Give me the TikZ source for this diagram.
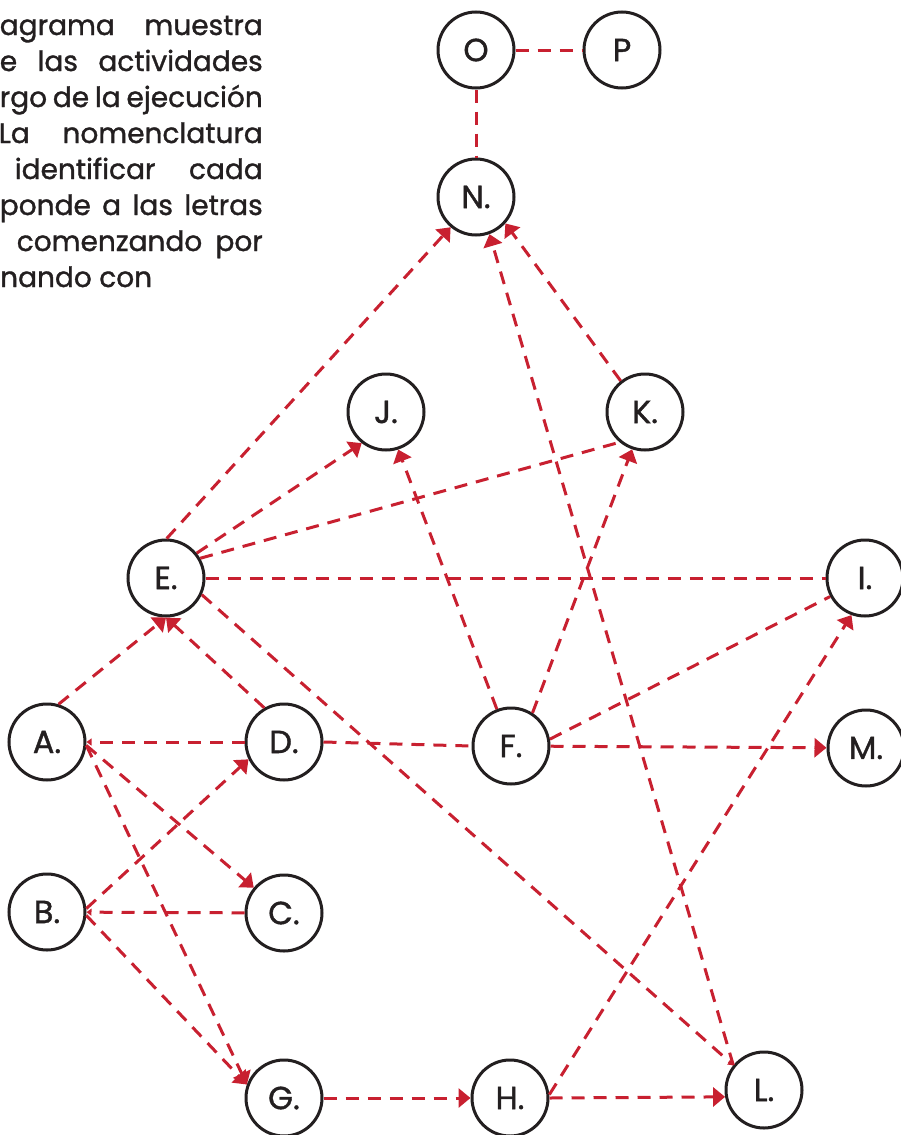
\documentclass[tikz,border=0pt]{standalone}
\usepackage{fontspec}
\setmainfont{Poppins}
\newfontfamily\medfont{Poppins}[FakeBold=1.2]
\usetikzlibrary{arrows.meta}
\definecolor{lnred}{RGB}{200,32,48}
\definecolor{ink}{RGB}{35,31,32}
\begin{document}
\begin{tikzpicture}[x=1pt,y=-1pt,
  act/.style={circle, draw=ink, line width=3pt, minimum size=76pt, inner sep=0pt, font=\medfont\fontsize{32}{32}\selectfont, text=ink},
  link/.style={draw=lnred, line width=3pt, dash pattern=on 13pt off 9pt},
  arr/.style={link, -{Triangle[length=12pt,width=19pt]}},
  tinyarr/.style={link, -{Triangle[length=5pt,width=7pt]}},
  para/.style={font=\medfont\fontsize{28}{36}\selectfont, text=ink, inner sep=0pt}]
\useasboundingbox (0,0) rectangle (901,1135);
\clip (0,0) rectangle (901,1135);
% text
\node[para, anchor=base east] (t1) at (263,35) {\makebox[263pt][s]{agrama muestra}};
\node[para, anchor=base east] (t2) at (263,71) {\makebox[263pt][s]{e las actividades}};
\node[para, anchor=base east] (t3) at (263,107) {\makebox[263pt][s]{rgo de la ejecución}};
\node[para, anchor=base east] (t4) at (263,143) {\makebox[264pt][s]{La nomenclatura}};
\node[para, anchor=base east] (t5) at (263,179) {\makebox[248pt][s]{identificar cada}};
\node[para, anchor=base east] (t6) at (263,215) {\makebox[263pt][s]{ponde a las letras}};
\node[para, anchor=base east] (t7) at (263,251) {\makebox[246pt][s]{comenzando por}};
\node[para, anchor=base west] (t8) at (0,287) {nando con};
% nodes
\node[act] (O) at (476,50) {O};
\node[act] (P) at (622,50) {P};
\node[act] (N) at (476,197) {N.};
\node[act] (J) at (386,412) {J.};
\node[act] (K) at (645,412) {K.};
\node[act] (E) at (166,578) {E.};
\node[act] (I) at (865,578) {I.};
\node[act] (A) at (47,742) {A.};
\node[act] (D) at (284,742) {D.};
\node[act] (F) at (511,746) {F.};
\node[act] (M) at (866,748) {M.};
\node[act] (B) at (47,912) {B.};
\node[act] (C) at (284,913) {C.};
\node[act] (G) at (284,1098) {G.};
\node[act] (H) at (510,1098) {H.};
\node[act] (L) at (764,1090) {L.};
% connectors
\draw[link] (O) -- (P);
\draw[link] (O) -- (N);
\draw[arr] (E.89) -- (N.230);
\draw[arr] (K.128) -- (N.318);
\draw[arr] (L.141) -- (N.290);
\draw[arr] (E.39) -- (J.232);
\draw[arr] (F.111) -- (J.288);
\draw[link] (E.30) -- (K.230);
\draw[arr] (F.57) -- (K.251);
\draw[link] (E) -- (I);
\draw[tinyarr] (E.335) -- (L.141);
\draw[arr] (A.73) -- (E.270);
\draw[arr] (D.120) -- (E.270);
\draw[tinyarr] (D) -- (A);
\draw[arr] (A.355) -- (C.140);
\draw[arr] (A.355) -- (G.160);
\draw[arr] (B.5) -- (D.206);
\draw[tinyarr] (C) -- (B);
\draw[arr] (B.355) -- (G.160);
\draw[arr] (G) -- (H);
\draw[arr] (H.east) -- (L.190);
\draw[arr] (H.5) -- (I.250);
\draw[link] (D.east) -- (F.west);
\draw[arr] (F) -- (M);
\draw[link] (F.10) -- (I.208);
\end{tikzpicture}
\end{document}
